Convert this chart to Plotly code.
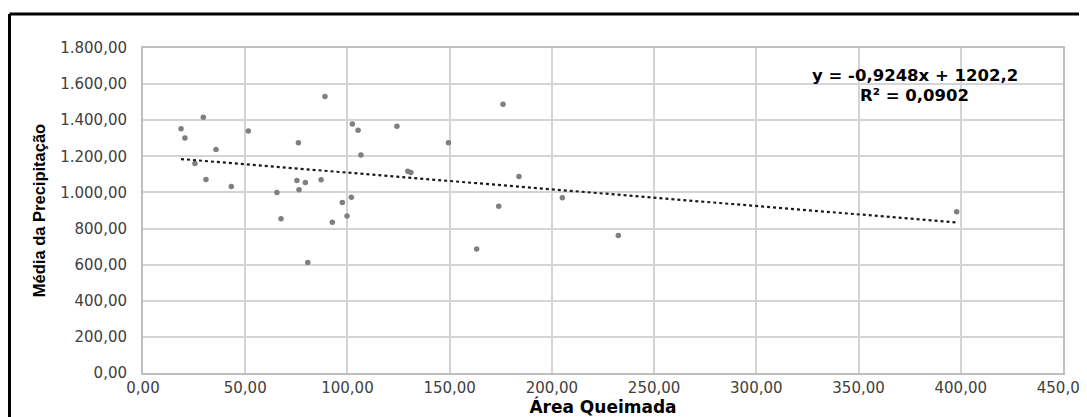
import plotly.graph_objects as go

# Data
area_queimada = [18.6, 20.5, 29.5, 35.7, 25.4, 30.8, 43.2, 51.5, 89.0, 76.0,
                 102.4, 105.2, 106.6, 75.3, 79.4, 87.1, 76.3, 65.5, 101.9, 97.5,
                 99.8, 92.6, 67.5, 80.6, 124.2, 149.4, 129.5, 131.0, 176.1, 183.9,
                 174.0, 163.2, 205.1, 232.5, 398.0]
media_precipitacao = [1353, 1301, 1416, 1238, 1161, 1072, 1033, 1340, 1532, 1275,
                      1379, 1344, 1207, 1066, 1055, 1070, 1015, 1000, 974, 945,
                      870, 835, 854, 612, 1366, 1275, 1117, 1110, 1488, 1089,
                      924, 687, 970, 762, 893]

slope = -0.9248
intercept = 1202.2
r_squared = 0.0902

x_min = min(area_queimada)
x_max = max(area_queimada)
trend_x = [x_min, x_max]
trend_y = [slope * v + intercept for v in trend_x]

fig = go.Figure()
fig.add_trace(go.Scatter(
    x=area_queimada, y=media_precipitacao, mode="markers",
    marker=dict(color="#7f7f7f", size=5.5, line=dict(width=0)),
    showlegend=False, hoverinfo="x+y"))
fig.add_trace(go.Scatter(
    x=trend_x, y=trend_y, mode="lines",
    line=dict(color="#1a1a1a", width=2.2, dash="dot"),
    showlegend=False, hoverinfo="skip"))

eq_line1 = "y = " + f"{slope:.4f}".replace(".", ",") + "x + " + f"{intercept:.1f}".replace(".", ",")
eq_line2 = "R² = " + f"{r_squared:.4f}".replace(".", ",")
eq_font = dict(family="DejaVu Sans", size=16.5, color="#000000")
fig.add_annotation(x=377.6, y=1648, xref="x", yref="y", text="<b>" + eq_line1 + "</b>",
                   showarrow=False, font=eq_font, align="center")
fig.add_annotation(x=377.6, y=1535, xref="x", yref="y", text="<b>" + eq_line2 + "</b>",
                   showarrow=False, font=eq_font, align="center")

axis_font = dict(family="DejaVu Sans", size=15, color="#404040")

fig.update_xaxes(range=[0, 450], dtick=50, tick0=0, tickformat=",.2f",
                 showgrid=True, gridcolor="#d4d4d4", gridwidth=2,
                 showline=True, linecolor="#bfbfbf", linewidth=2, mirror=True,
                 zeroline=False, tickfont=axis_font, ticks="", ticklabelstandoff=0,
                 ticklabeloverflow="allow", automargin=False,
                 title=dict(text="<b>Área Queimada</b>", standoff=3,
                            font=dict(family="DejaVu Sans", size=17, color="#000000")))
fig.update_yaxes(range=[0, 1800], dtick=200, tick0=0, tickformat=",.2f",
                 showgrid=True, gridcolor="#d4d4d4", gridwidth=1.5,
                 showline=True, linecolor="#bfbfbf", linewidth=2, mirror=True,
                 zeroline=False, tickfont=axis_font, ticks="", ticklabelstandoff=11,
                 automargin=False,
                 title=dict(text="<b>Média da Precipitação</b>", standoff=10,
                            font=dict(family="Liberation Sans", size=16.5, color="#000000")))

# outer black frame (top and left edges)
frame = dict(type="line", xref="paper", yref="paper", line=dict(color="#000000", width=3))
fig.add_shape(**frame, x0=(1.5 - 135) / 920, x1=(1085 - 135) / 920,
              y0=(365 - 6) / 325, y1=(365 - 6) / 325)
fig.add_shape(**frame, x0=(1.5 - 135) / 920, x1=(1.5 - 135) / 920,
              y0=(365 - 6) / 325, y1=(365 - 415) / 325)

fig.update_layout(width=1079, height=409, separators=",.",
                  margin=dict(l=135, r=24, t=40, b=44),
                  plot_bgcolor="#ffffff", paper_bgcolor="#ffffff",
                  font=dict(family="DejaVu Sans"))

fig.write_html("out.html")
